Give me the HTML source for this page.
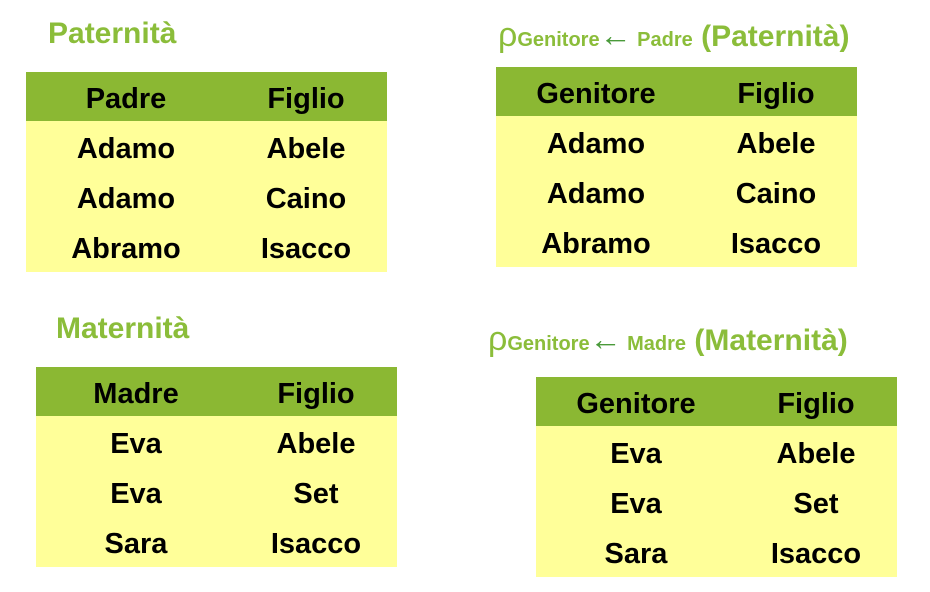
<!DOCTYPE html>
<html><head><meta charset="utf-8"><style>
body{margin:0;width:930px;height:592px;background:#fff;position:relative;overflow:hidden;font-family:"Liberation Sans",Arial,sans-serif;font-weight:bold}
.t{position:absolute;width:361px;height:200px;background:#ffff99}
.h{position:absolute;left:0;top:0;width:361px;height:49px;background:#8bb833}
.c{position:absolute;width:180px;text-align:center;font-size:29px;color:#000;line-height:54px}
.ttl{position:absolute;color:#8bbd3a;font-size:30px;white-space:nowrap}
.s{font-size:20px}
.ar{color:#4a9a3a;font-size:32px;font-weight:normal}
</style></head><body>
<div class="ttl" style="left:48px;top:17px">Paternità</div>
<div class="ttl" style="left:56px;top:312px">Maternità</div>
<div class="ttl" style="left:498px;top:16px"><span style="font-size:34px;font-weight:normal">ρ</span><span class="s">Genitore</span><span class="ar">←</span><span class="s">&nbsp;Padre</span> (Paternità)</div>
<div class="ttl" style="left:488px;top:320px"><span style="font-size:34px;font-weight:normal">ρ</span><span class="s">Genitore</span><span class="ar">←</span><span class="s">&nbsp;Madre</span> (Maternità)</div>

<div class="t" style="left:26px;top:72px"><div class="h"></div>
<div class="c" style="left:10px;top:0">Padre</div><div class="c" style="left:190px;top:0">Figlio</div>
<div class="c" style="left:10px;top:50px">Adamo</div><div class="c" style="left:190px;top:50px">Abele</div>
<div class="c" style="left:10px;top:100px">Adamo</div><div class="c" style="left:190px;top:100px">Caino</div>
<div class="c" style="left:10px;top:150px">Abramo</div><div class="c" style="left:190px;top:150px">Isacco</div></div>

<div class="t" style="left:496px;top:67px"><div class="h"></div>
<div class="c" style="left:10px;top:0">Genitore</div><div class="c" style="left:190px;top:0">Figlio</div>
<div class="c" style="left:10px;top:50px">Adamo</div><div class="c" style="left:190px;top:50px">Abele</div>
<div class="c" style="left:10px;top:100px">Adamo</div><div class="c" style="left:190px;top:100px">Caino</div>
<div class="c" style="left:10px;top:150px">Abramo</div><div class="c" style="left:190px;top:150px">Isacco</div></div>

<div class="t" style="left:36px;top:367px"><div class="h"></div>
<div class="c" style="left:10px;top:0">Madre</div><div class="c" style="left:190px;top:0">Figlio</div>
<div class="c" style="left:10px;top:50px">Eva</div><div class="c" style="left:190px;top:50px">Abele</div>
<div class="c" style="left:10px;top:100px">Eva</div><div class="c" style="left:190px;top:100px">Set</div>
<div class="c" style="left:10px;top:150px">Sara</div><div class="c" style="left:190px;top:150px">Isacco</div></div>

<div class="t" style="left:536px;top:377px"><div class="h"></div>
<div class="c" style="left:10px;top:0">Genitore</div><div class="c" style="left:190px;top:0">Figlio</div>
<div class="c" style="left:10px;top:50px">Eva</div><div class="c" style="left:190px;top:50px">Abele</div>
<div class="c" style="left:10px;top:100px">Eva</div><div class="c" style="left:190px;top:100px">Set</div>
<div class="c" style="left:10px;top:150px">Sara</div><div class="c" style="left:190px;top:150px">Isacco</div></div>
</body></html>
